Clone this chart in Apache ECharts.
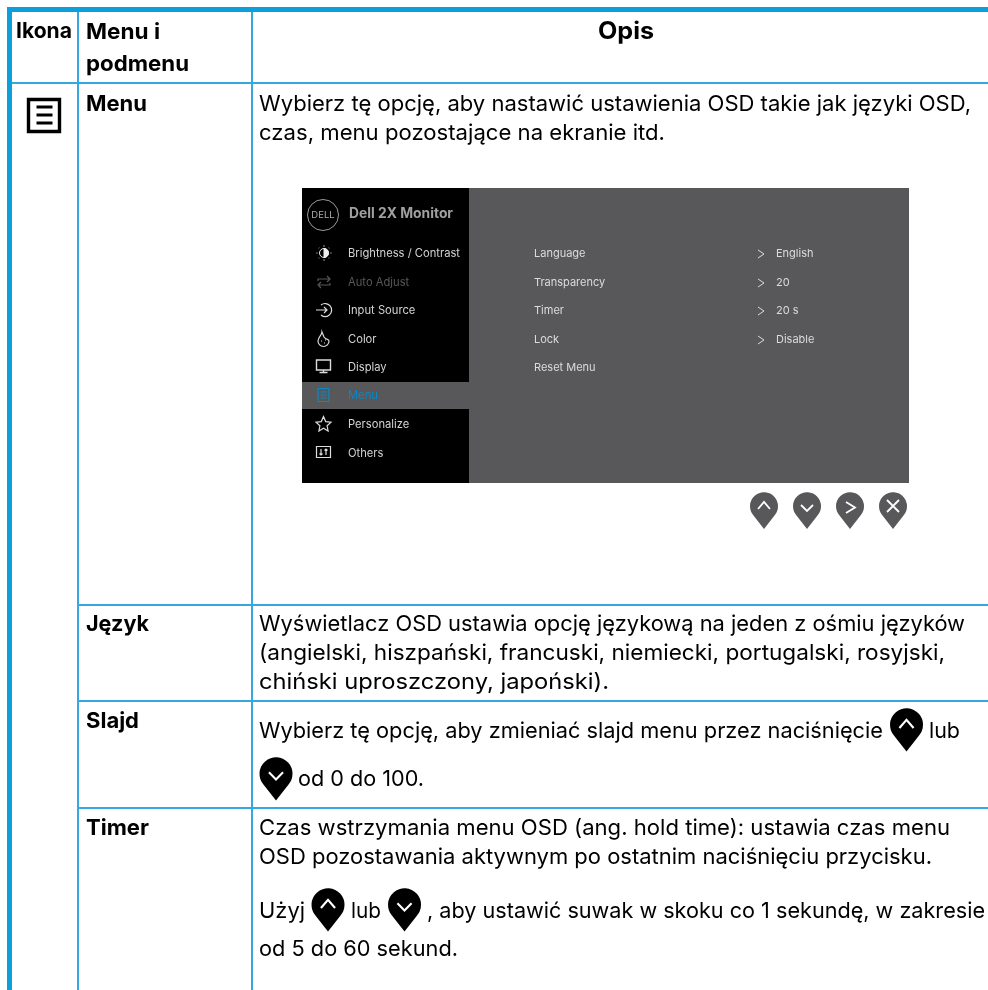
<!DOCTYPE html>
<html>
<head>
<meta charset="utf-8">
<style>
html, body { margin: 0; padding: 0; background: #fff; }
#main { width: 988px; height: 990px; }
</style>
<script src="https://cdn.jsdelivr.net/npm/echarts@6/dist/echarts.min.js"></script>
</head>
<body>
<div id="main"></div>
<script>
// table text
var headerIkona = 'Ikona';
var headerMenu = ['Menu i', 'podmenu'];
var headerOpis = 'Opis';
var rowLabels = ['Menu', 'Język', 'Slajd', 'Timer'];
var menuLines = ['Wybierz tę opcję, aby nastawić ustawienia OSD takie jak języki OSD,', 'czas, menu pozostające na ekranie itd.'];
var jezykLines = ['Wyświetlacz OSD ustawia opcję językową na jeden z ośmiu języków', '(angielski, hiszpański, francuski, niemiecki, portugalski, rosyjski,', 'chiński uproszczony, japoński).'];
var slajdParts = ['Wybierz tę opcję, aby zmieniać slajd menu przez naciśnięcie', 'lub', 'od 0 do 100.'];
var timerLines = ['Czas wstrzymania menu OSD (ang. hold time): ustawia czas menu', 'OSD pozostawania aktywnym po ostatnim naciśnięciu przycisku.'];
var timerParts = ['Użyj', 'lub', ', aby ustawić suwak w skoku co 1 sekundę, w zakresie', 'od 5 do 60 sekund.'];

// OSD text
var osdTitle = 'Dell 2X Monitor';
var osdMenu = ['Brightness / Contrast', 'Auto Adjust', 'Input Source', 'Color', 'Display', 'Menu', 'Personalize', 'Others'];
var osdItems = ['Language', 'Transparency', 'Timer', 'Lock', 'Reset Menu'];
var osdValues = ['English', '20', '20 s', 'Disable'];

var FONT = 'Inter, "Noto Sans", sans-serif';
var BLUE = '#0d9fdc', LINE = '#35a8e0', OSD_GRAY = '#58585a';
var els = [];
var measure = document.createElement('canvas').getContext('2d');

function rect(x, y, w, h, fill) {
    els.push({ type: 'rect', silent: true, shape: { x: x, y: y, width: w, height: h }, style: { fill: fill } });
}
// opts.end: squeeze or stretch the line so it finishes at this x
function txt(s, x, y, size, opts) {
    opts = opts || {};
    var font = (opts.weight || 'normal') + ' ' + size + 'px ' + FONT;
    var sx = 1;
    if (opts.end) {
        measure.font = font;
        sx = (opts.end - x) / measure.measureText(s).width;
    }
    els.push({
        type: 'text', silent: true, x: x, y: y, scaleX: sx,
        style: {
            text: s, fill: opts.fill || '#000', align: opts.align || 'left', verticalAlign: 'middle',
            font: font
        }
    });
}
function stroke(d, x, y, color, lw, fill) {
    els.push({
        type: 'path', silent: true, x: x, y: y,
        shape: { pathData: d },
        style: { stroke: color, lineWidth: lw || 1, fill: fill || 'none' }
    });
}

// pin button: x is the centre, y the top, w the width
function pin(x, y, w, color, glyph) {
    var k = w / 28;
    var glyphs = {
        up: 'M-6 3 L0 -4 L6 3',
        down: 'M-6 -1 L0 5 L6 -1',
        right: 'M-4 -4 L5 1.5 L-4 7',
        close: 'M-6 -6 L6 6 M6 -6 L-6 6'
    };
    els.push({
        type: 'group', silent: true, x: x, y: y + 14 * k, scaleX: k, scaleY: k,
        children: [
            { type: 'path', shape: { pathData: 'M0 23 L-10.5 9.5 A14 14 0 1 1 10.5 9.5 Z' }, style: { fill: color } },
            { type: 'path', shape: { pathData: glyphs[glyph] }, style: { stroke: '#fff', lineWidth: 1.8, fill: 'none' } }
        ]
    });
}

// table frame
rect(7, 7, 981, 5, BLUE);
rect(7, 7, 5, 983, BLUE);
rect(77, 12, 2, 978, LINE);
rect(251, 12, 2, 978, LINE);
rect(12, 82, 976, 2, LINE);
rect(77, 604, 911, 2, LINE);
rect(77, 700, 911, 2, LINE);
rect(77, 807, 911, 2, LINE);

// header
txt(headerIkona, 16, 32, 21, { weight: 'bold', end: 72 });
txt(headerMenu[0], 86, 32, 22, { weight: 'bold', end: 160 });
txt(headerMenu[1], 86, 64, 22, { weight: 'bold', end: 189 });
txt(headerOpis, 598, 32, 24, { weight: 'bold', end: 654 });

// menu icon in the first column
stroke('M-15.5 -16 H15.5 V16 H-15.5 Z', 44, 115.5, '#000', 3.4);
stroke('M-8 -8.5 H8 M-8 -0.5 H8 M-8 7.5 H8', 44.5, 115.5, '#000', 3);

// row labels
var labelEnds = [147, 149, 139, 149];
[104, 624, 721, 828].forEach(function (y, i) {
    txt(rowLabels[i], 86, y, 22, { weight: 'bold', end: labelEnds[i] });
});

// descriptions
var bodyX = 259, bodySize = 22;
txt(menuLines[0], bodyX, 104, bodySize, { end: 971 });
txt(menuLines[1], bodyX, 133, bodySize, { end: 665 });
txt(jezykLines[0], bodyX, 624, bodySize, { end: 965 });
txt(jezykLines[1], bodyX, 653, bodySize, { end: 945 });
txt(jezykLines[2], bodyX, 682, bodySize, { end: 609 });
txt(slajdParts[0], bodyX, 731, bodySize, { end: 883 });
pin(906.5, 708, 33, '#000', 'up');
txt(slajdParts[1], 929, 731, bodySize, { end: 960 });
pin(276, 757, 33, '#000', 'down');
txt(slajdParts[2], 298, 779, bodySize, { end: 424 });
txt(timerLines[0], bodyX, 828, bodySize, { end: 950 });
txt(timerLines[1], bodyX, 857, bodySize, { end: 932 });
txt(timerParts[0], bodyX, 911, bodySize, { end: 305 });
pin(328, 888, 33, '#000', 'up');
txt(timerParts[1], 351, 911, bodySize, { end: 381 });
pin(404.5, 888, 33, '#000', 'down');
txt(timerParts[2], 427, 911, bodySize, { end: 985 });
txt(timerParts[3], bodyX, 949, bodySize, { end: 458 });

// OSD screen
rect(302, 188, 167, 295, '#000');
rect(469, 188, 440, 295, OSD_GRAY);
rect(302, 382, 167, 27, OSD_GRAY);

// Dell logo
els.push({ type: 'circle', silent: true, shape: { cx: 323, cy: 215, r: 15.5 }, style: { fill: 'none', stroke: '#9a9a9a', lineWidth: 1 } });
txt('DELL', 323, 215, 9.5, { fill: '#aaa', align: 'center' });
txt(osdTitle, 349, 214, 14, { fill: '#a0a0a0', weight: 'bold', end: 453 });

var osdY = [253, 282, 310, 339, 367, 395, 424, 453];
osdMenu.forEach(function (s, i) {
    var c = '#d4d4d4';
    if (i === 1) c = '#55585a';
    if (i === 5) c = '#0b87c4';
    txt(s, 348, osdY[i] + 1, 11.2, { fill: c });
});
osdItems.forEach(function (s, i) {
    txt(s, 534, osdY[i] + 1, 11, { fill: '#dcdcdc' });
});
osdValues.forEach(function (s, i) {
    stroke('M-3 -4 L3 0 L-3 4', 761, osdY[i] + 1, '#dcdcdc', 1);
    txt(s, 776, osdY[i] + 1, 11, { fill: '#dcdcdc' });
});

// OSD icons
var ix = 324;
els.push({ type: 'circle', silent: true, shape: { cx: ix, cy: 253, r: 4.5 }, style: { fill: 'none', stroke: '#eee', lineWidth: 1 } });
stroke('M0 -4.5 A4.5 4.5 0 0 1 0 4.5 Z', ix, 253, '#eee', 1, '#eee');
stroke('M0 -7.5 V-6.5 M0 6.5 V7.5 M-7.5 0 H-6.5 M6.5 0 H7.5 M-5.2 -5.2 L-4.8 -4.8 M5.2 5.2 L4.8 4.8 M-5.2 5.2 L-4.8 4.8 M5.2 -5.2 L4.8 -4.8', ix, 253, '#eee', 1.2);
stroke('M-6 -1 V-3 H5 M3 -6 L6 -3 L3 0 M6 1 V3 H-5 M-3 0 L-6 3 L-3 6', ix, 282, '#55585a', 1.2);
stroke('M-3 -5 A6.5 6.5 0 1 1 -3 5 M-8 0 H3 M0 -3 L3 0 L0 3', ix, 310, '#ddd', 1.2);
stroke('M-1 -7 C-1 -4 -5 -2 -5 2 A5.5 5.5 0 1 0 6 2 C6 0 3 1 1 -2 Z M-2 2 H-1 M1 4 H2 M2 1 H3', ix - 1, 339, '#ddd', 1.2);
stroke('M-7 -6 H7 V4 H-7 Z M0 4 V6.5 M-4 6.5 H4', ix - 0.5, 366, '#ddd', 1.4);
stroke('M-5.5 -6.5 H5.5 V6.5 H-5.5 Z M-3 -3 H3 M-3 0 H3 M-3 3 H3', ix - 0.5, 395, '#0b87c4', 1.2);
stroke('M0 -7.5 L2.2 -2.4 L7.5 -1.8 L3.6 1.8 L4.6 7 L0 4.3 L-4.6 7 L-3.6 1.8 L-7.5 -1.8 L-2.2 -2.4 Z', ix - 0.5, 424, '#ddd', 1.2);
stroke('M-7 -5.5 H7 V5.5 H-7 Z M-2.5 -3 V3 M-4 1.5 L-2.5 3 L-1 1.5 M2.5 3 V-3 M1 -1.5 L2.5 -3 L4 -1.5', ix - 0.5, 452, '#ddd', 1.2);

// OSD buttons
pin(764, 492, 28, OSD_GRAY, 'up');
pin(807, 492, 28, OSD_GRAY, 'down');
pin(850, 492, 28, OSD_GRAY, 'right');
pin(893, 492, 28, OSD_GRAY, 'close');

var chart = echarts.init(document.getElementById('main'), null, { renderer: 'canvas' });
chart.setOption({
    backgroundColor: '#fff',
    animation: false,
    series: [{
        type: 'custom',
        coordinateSystem: 'none',
        silent: true,
        data: [[0]],
        renderItem: function () {
            return { type: 'group', children: els };
        }
    }]
});
</script>
</body>
</html>
